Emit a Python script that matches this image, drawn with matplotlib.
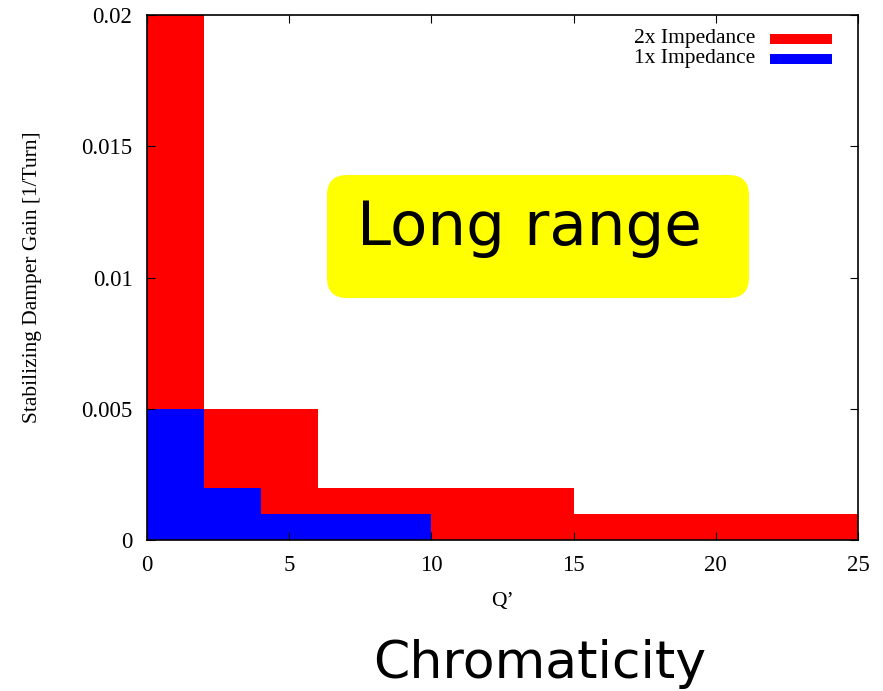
import matplotlib
matplotlib.use("Agg")
import matplotlib.pyplot as plt
from matplotlib.patches import Rectangle, FancyBboxPatch

# step boundaries in Q' and damper gain on each step
q_2x = [0, 2, 6, 15, 25]
gain_2x = [0.02, 0.005, 0.002, 0.001]
q_1x = [0, 2, 4, 10]
gain_1x = [0.005, 0.002, 0.001]

series = [("2x Impedance", "#ff0000"), ("1x Impedance", "#0000ff")]

x_ticks = [0, 5, 10, 15, 20, 25]
y_ticks = [0, 0.005, 0.01, 0.015, 0.02]
y_tick_labels = ["0", "0.005", "0.01", "0.015", "0.02"]

serif = "Liberation Serif"
fs = 15.5

fig = plt.figure(figsize=(8.83, 6.91), dpi=100)
ax = fig.add_axes([0.1665, 0.2185, 0.8052, 0.7598])

ax.fill_between(q_2x, gain_2x + [gain_2x[-1]], step="post", color=series[0][1], lw=0)
ax.fill_between(q_1x, gain_1x + [gain_1x[-1]], step="post", color=series[1][1], lw=0)

ax.set_xlim(0, 25)
ax.set_ylim(0, 0.02)
ax.set_xticks(x_ticks)
ax.set_yticks(y_ticks)
ax.set_yticklabels(y_tick_labels)
ax.tick_params(direction="in", top=True, right=True, length=6, width=0.8,
               labelsize=16.5, pad=10.5)
for lab in ax.get_xticklabels() + ax.get_yticklabels():
    lab.set_fontfamily(serif)
for s in ax.spines.values():
    s.set_linewidth(1.2)
    s.set_zorder(4)

ax.set_xlabel("Q\u2019", fontfamily=serif, fontsize=fs, labelpad=12)
ax.set_ylabel("Stabilizing Damper Gain [1/Turn]", fontfamily=serif, fontsize=fs,
              labelpad=28)

# gnuplot-style key: label on the left, colour bar on the right
for i, (name, col) in enumerate(series):
    yc = 0.955 - i * 0.038
    ax.text(0.855, yc, name, transform=ax.transAxes, ha="right", va="center",
            fontfamily=serif, fontsize=fs)
    ax.add_patch(Rectangle((0.876, yc - 0.0095), 0.0875, 0.019,
                           transform=ax.transAxes, facecolor=col, edgecolor="none"))

# annotation box
box = FancyBboxPatch((0.3703, 0.5687), 0.4779, 0.178,
                     boxstyle="round,pad=0,rounding_size=0.0227",
                     mutation_aspect=883 / 691,
                     transform=fig.transFigure, facecolor="#ffff00", edgecolor="none",
                     zorder=5)
fig.patches.append(box)
fig.text(0.4043, 0.6454, "Long range", fontsize=44, family="DejaVu Sans",
         va="baseline", ha="left", zorder=6)

fig.text(0.4224, 0.019, "Chromaticity", fontsize=37.5, family="DejaVu Sans",
         ha="left", va="baseline")

fig.savefig("out.png", dpi=100)
